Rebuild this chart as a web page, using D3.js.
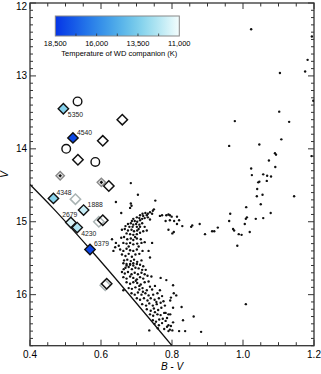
<!DOCTYPE html>
<html>
<head>
<meta charset="utf-8">
<script src="https://cdn.jsdelivr.net/npm/d3@7"></script>
<style>
body { margin: 0; background: #fff; }
text { font-family: Arial, "Liberation Sans", Helvetica, sans-serif; }
</style>
</head>
<body>
<svg id="cmd-svg" width="321" height="374"></svg>
<script>
// cluster members, [B-V, V]
const clusterStars = [
	[1.023,12.36],[1.194,12.46],[1.182,12.78],[1.175,12.94],[1.104,12.96],[1.198,13.34],[1.102,13.49],
	[1.130,13.63],[0.977,13.62],[1.108,13.87],[0.961,13.96],[1.046,13.94],[1.090,14.06],[1.093,14.08],
	[1.193,14.10],[1.073,14.16],[1.091,14.25],[1.023,14.27],[1.057,14.35],[1.068,14.37],[1.079,14.38],
	[1.025,14.36],[1.046,14.45],[1.043,14.46],[1.067,14.44],[1.040,14.55],
	[1.039,14.65],[1.055,14.63],[1.144,14.65],[1.050,14.76],[1.009,14.80],[1.078,14.88],[0.964,14.89],
	[1.011,14.94],[1.008,14.96],[1.036,14.96],[1.057,14.95],[0.961,14.99],[1.005,15.03],[1.019,15.14],
	[0.972,15.10],[0.975,15.12],[0.988,15.17],[0.996,15.18],[0.984,15.33],[1.008,16.13],
	[0.784,14.91],[0.790,14.90],[0.794,14.91],[0.799,14.93],[0.814,14.93],[0.820,14.98],[0.794,14.98],
	[0.782,14.99],[0.806,14.99],[0.814,15.03],[0.829,15.06],[0.790,15.11],[0.805,15.14],[0.801,15.16],
	[0.854,15.07],[0.857,15.05],[0.878,15.03],[0.893,15.17],[0.913,15.13],[0.919,15.13],[0.929,15.08],
	[0.684,14.47],[0.704,14.63],[0.642,14.73],[0.684,14.75],[0.686,14.78],[0.682,14.81],[0.749,14.83],
	[0.753,14.71],[0.746,14.85],[0.738,14.87],[0.725,14.88],[0.732,14.89],[0.744,14.89],[0.717,14.89],
	[0.657,14.88],[0.772,14.91],[0.766,14.92],[0.710,14.91],[0.719,14.92],[0.729,14.91],[0.701,14.94],
	[0.691,14.96],[0.708,14.95],[0.716,14.96],[0.723,14.95],[0.732,14.94],[0.738,14.97],[0.687,14.99],
	[0.695,14.99],[0.702,15.00],[0.710,14.98],[0.676,15.03],[0.684,15.02],[0.691,15.04],[0.699,15.03],
	[0.708,15.04],[0.716,15.02],[0.669,15.06],[0.680,15.07],[0.689,15.07],[0.701,15.07],[0.710,15.07],
	[0.723,15.07],[0.659,15.11],[0.667,15.10],[0.676,15.12],[0.686,15.11],[0.693,15.13],[0.702,15.12],
	[0.710,15.15],[0.719,15.13],[0.729,15.12],[0.672,15.16],[0.682,15.17],[0.691,15.18],[0.701,15.17],
	[0.631,15.24],[0.642,15.29],[0.650,15.33],[0.640,15.35],[0.635,15.40],[0.657,15.22],[0.665,15.21],
	[0.674,15.24],[0.684,15.23],[0.691,15.25],[0.701,15.23],[0.712,15.24],[0.663,15.29],[0.672,15.30],
	[0.682,15.29],[0.691,15.31],[0.702,15.30],[0.714,15.29],[0.723,15.28],[0.744,15.29],[0.654,15.38],
	[0.663,15.40],[0.672,15.37],[0.682,15.39],[0.691,15.40],[0.701,15.38],[0.659,15.45],[0.669,15.47],
	[0.678,15.44],[0.687,15.48],[0.697,15.45],[0.708,15.44],[0.717,15.40],[0.734,15.40],[0.665,15.53],
	[0.674,15.52],[0.684,15.54],[0.693,15.52],[0.702,15.55],[0.714,15.53],[0.738,15.49],[0.672,15.58],
	[0.682,15.59],[0.691,15.57],
	[0.663,15.57],[0.672,15.60],[0.682,15.58],[0.691,15.60],[0.701,15.58],[0.710,15.59],[0.719,15.61],
	[0.669,15.63],[0.678,15.62],[0.687,15.65],[0.697,15.63],[0.706,15.64],[0.716,15.66],[0.659,15.69],
	[0.667,15.71],[0.676,15.69],[0.686,15.72],[0.695,15.70],[0.704,15.72],[0.714,15.70],[0.723,15.72],
	[0.663,15.76],[0.672,15.78],[0.682,15.75],[0.691,15.77],[0.701,15.79],[0.710,15.76],[0.719,15.78],
	[0.731,15.74],[0.672,15.83],[0.682,15.85],[0.691,15.83],[0.702,15.84],[0.712,15.86],[0.723,15.83],
	[0.734,15.82],[0.738,15.89],[0.678,15.91],[0.687,15.92],[0.697,15.90],[0.708,15.93],[0.717,15.91],
	[0.729,15.94],[0.744,15.93],[0.663,15.94],[0.686,15.98],[0.695,16.00],[0.704,15.97],[0.714,16.00],
	[0.725,15.98],[0.734,16.01],[0.747,16.00],[0.759,15.98],[0.766,15.94],[0.701,16.05],[0.710,16.07],
	[0.721,16.05],[0.731,16.08],[0.740,16.05],[0.751,16.07],[0.763,16.05],[0.772,16.02],[0.716,16.13],
	[0.727,16.15],[0.736,16.12],[0.746,16.15],[0.757,16.13],[0.768,16.11],[0.776,16.09],[0.729,16.20],
	[0.740,16.22],[0.749,16.19],[0.761,16.21],[0.770,16.18],[0.738,16.27],[0.747,16.29],[0.759,16.27],
	[0.768,16.28],[0.778,16.25],[0.746,16.35],[0.755,16.37],[0.764,16.34],[0.774,16.33],[0.751,16.40],
	[0.763,16.42],[0.772,16.39],[0.736,16.49],[0.768,15.77],
	[0.784,15.80],[0.803,15.87],[0.805,15.98],[0.812,16.01],[0.797,16.04],[0.795,16.08],[0.803,16.18],
	[0.827,16.17],[0.782,16.25],[0.790,16.27],[0.795,16.27],[0.861,16.30],[0.831,16.35],[0.782,16.36],
	[0.803,16.38],[0.790,16.42],[0.797,16.43],[0.786,16.44],[0.794,16.48],[0.801,16.49],[0.790,16.50],
	[0.820,16.50],[0.837,16.50],[0.882,16.51],
	[0.706,15.10],[0.696,15.21],[0.678,15.34],[0.706,15.34],[0.664,15.65],[0.698,15.81],[0.708,15.88],
	[0.726,15.66],[0.742,15.75],[0.752,15.88],[0.718,15.96],[0.756,16.10],[0.780,16.15],[0.752,16.24],
	[0.786,16.32],[0.760,16.46],[0.778,16.47]
];

// zero-age main sequence
const zamsBV = [0.40, 0.466, 0.57, 0.80];
const zamsV = [14.49, 14.82, 15.38, 16.70];

// other stars
const openCircles = [[0.534,13.35],[0.502,14.00],[0.584,14.18]];
const openDiamonds = [[0.660,13.60],[0.605,13.89],[0.535,14.15],[0.622,14.51],[0.605,14.98],[0.616,15.85]];
const grayDiamonds = [[0.528,14.69],[0.594,15.00],[0.612,15.87]];
const dotDiamonds = [[0.485,14.37],[0.601,14.46]];

// stars with WD companions
const wdIds = ['5350','4540','4348','1888','2679','4230','6379'];
const wdBV = [0.494, 0.521, 0.466, 0.551, 0.515, 0.533, 0.569];
const wdV = [13.45, 13.85, 14.68, 14.84, 15.01, 15.08, 15.38];
const wdTemp = [13300, 17900, 13200, 11900, 11500, 12400, 18000];

const tempTicks = [18500, 16000, 13500, 11000];
const xTicks = [0.4, 0.6, 0.8, 1.0, 1.2];
const yTicks = [12, 13, 14, 15, 16];

const svg = d3.select('#cmd-svg');
const plot = {left: 30, right: 314, top: 3, bottom: 345.7};

const x = d3.scaleLinear().domain([0.4, 1.2]).range([plot.left, plot.right]);
const y = d3.scaleLinear().domain([12, 16.7]).range([plot.top, plot.bottom]);

const tempColor = d3.scaleSequential()
	.domain([18500, 11000])
	.interpolator(d3.interpolateRgbBasis(['#0534e6', '#2a8aea', '#74d2e8', '#f4fdfd']));

function diamondPath(r) {
	return 'M0,' + (-r) + 'L' + r + ',0L0,' + r + 'L' + (-r) + ',0Z';
}

function drawFrame() {
	svg.append('defs').append('clipPath').attr('id', 'plot-clip')
		.append('rect')
		.attr('x', plot.left).attr('y', plot.top)
		.attr('width', plot.right - plot.left).attr('height', plot.bottom - plot.top);

	const ticks = svg.append('g').attr('class', 'ticks').style('stroke', '#333').style('stroke-width', 1);

	d3.range(0.4, 1.2001, 0.05).forEach((v) => {
		const major = Math.abs(v * 5 - Math.round(v * 5)) < 1e-6;
		const len = major ? 6 : 3.5;
		ticks.append('line').attr('x1', x(v)).attr('x2', x(v)).attr('y1', plot.bottom).attr('y2', plot.bottom - len);
		ticks.append('line').attr('x1', x(v)).attr('x2', x(v)).attr('y1', plot.top).attr('y2', plot.top + len);
	});

	d3.range(12, 16.7001, 0.1).forEach((v) => {
		const major = Math.abs(v - Math.round(v)) < 1e-6;
		const len = major ? 6 : 3;
		ticks.append('line').attr('y1', y(v)).attr('y2', y(v)).attr('x1', plot.left).attr('x2', plot.left + len);
		ticks.append('line').attr('y1', y(v)).attr('y2', y(v)).attr('x1', plot.right).attr('x2', plot.right - len);
	});

	svg.append('rect')
		.attr('x', plot.left).attr('y', plot.top)
		.attr('width', plot.right - plot.left).attr('height', plot.bottom - plot.top)
		.style('fill', 'none').style('stroke', '#333').style('stroke-width', 1.3);

	svg.append('g').selectAll('text')
		.data(xTicks)
		.enter().append('text')
		.attr('x', (d) => { return x(d); })
		.attr('y', plot.bottom + 12)
		.attr('text-anchor', 'middle')
		.style('font-size', '10px')
		.text((d) => { return d3.format('.1f')(d); });

	// top label is pushed down so it stays on the page
	svg.append('g').selectAll('text')
		.data(yTicks)
		.enter().append('text')
		.attr('x', plot.left - 3)
		.attr('y', (d) => { return Math.max(y(d) + 3.5, 10); })
		.attr('text-anchor', 'end')
		.style('font-size', '10px')
		.text((d) => { return d; });

	svg.append('text')
		.attr('x', (plot.left + plot.right) / 2)
		.attr('y', 370)
		.attr('text-anchor', 'middle')
		.style('font-size', '10px')
		.style('font-style', 'italic')
		.text('B - V');

	svg.append('text')
		.attr('transform', 'translate(8,' + ((plot.top + plot.bottom) / 2) + ') rotate(-90)')
		.attr('text-anchor', 'middle')
		.style('font-size', '10px')
		.style('font-style', 'italic')
		.text('V');
}

function drawCluster() {
	const g = svg.append('g').attr('clip-path', 'url(#plot-clip)');

	g.append('path')
		.datum(zamsBV.map((d, i) => { return [d, zamsV[i]]; }))
		.attr('d', d3.line().x((d) => { return x(d[0]); }).y((d) => { return y(d[1]); }).curve(d3.curveMonotoneX))
		.style('fill', 'none')
		.style('stroke', '#111')
		.style('stroke-width', 1.3);

	g.selectAll('.cluster-star')
		.data(clusterStars)
		.enter().append('circle')
		.attr('class', 'cluster-star')
		.attr('cx', (d) => { return x(d[0]); })
		.attr('cy', (d) => { return y(d[1]); })
		.attr('r', 1.2)
		.style('fill', '#111');
}

function drawMarkers() {
	const g = svg.append('g');

	g.selectAll('.gray-diamond')
		.data(grayDiamonds)
		.enter().append('path')
		.attr('class', 'gray-diamond')
		.attr('transform', (d) => { return 'translate(' + x(d[0]) + ',' + y(d[1]) + ')'; })
		.attr('d', diamondPath(5.2))
		.style('fill', 'none')
		.style('stroke', '#aab4b4')
		.style('stroke-width', 1.5);

	g.selectAll('.open-diamond')
		.data(openDiamonds)
		.enter().append('path')
		.attr('class', 'open-diamond')
		.attr('transform', (d) => { return 'translate(' + x(d[0]) + ',' + y(d[1]) + ')'; })
		.attr('d', diamondPath(5.2))
		.style('fill', 'none')
		.style('stroke', '#111')
		.style('stroke-width', 1.5);

	g.selectAll('.open-circle')
		.data(openCircles)
		.enter().append('circle')
		.attr('class', 'open-circle')
		.attr('cx', (d) => { return x(d[0]); })
		.attr('cy', (d) => { return y(d[1]); })
		.attr('r', 4.3)
		.style('fill', 'none')
		.style('stroke', '#111')
		.style('stroke-width', 1.4);

	const dotted = g.selectAll('.dot-diamond')
		.data(dotDiamonds)
		.enter().append('g')
		.attr('class', 'dot-diamond')
		.attr('transform', (d) => { return 'translate(' + x(d[0]) + ',' + y(d[1]) + ')'; });

	dotted.append('path')
		.attr('d', diamondPath(4.2))
		.style('fill', '#e4e4e4')
		.style('stroke', '#888')
		.style('stroke-width', 1.4);

	dotted.append('path')
		.attr('d', diamondPath(1.8))
		.style('fill', '#111');

	const wd = wdIds.map((id, i) => {
		return {id: id, bv: wdBV[i], v: wdV[i], temp: wdTemp[i]};
	});

	// label offsets from the marker centre
	const labelOffset = {
		'5350': [4.5, 8], '4540': [4, -3], '4348': [3, -3], '1888': [4, -3],
		'2679': [-8.7, -5.5], '4230': [4, 8.5], '6379': [4, -3.5]
	};

	const wdNodes = g.selectAll('.wd-node')
		.data(wd)
		.enter().append('g')
		.attr('class', 'wd-node')
		.attr('transform', (d) => { return 'translate(' + x(d.bv) + ',' + y(d.v) + ')'; });

	wdNodes.append('path')
		.attr('d', diamondPath(5.2))
		.style('fill', (d) => { return tempColor(d.temp); })
		.style('stroke', '#111')
		.style('stroke-width', 1.4);

	wdNodes.append('text')
		.attr('x', (d) => { return labelOffset[d.id][0]; })
		.attr('y', (d) => { return labelOffset[d.id][1]; })
		.style('font-size', '6.8px')
		.style('fill', '#222')
		.text((d) => { return d.id; });
}

function drawColorbar() {
	const bar = {x0: 55.3, x1: 179.3, y0: 16, y1: 36};
	const tx = d3.scaleLinear().domain([18500, 11000]).range([bar.x0, bar.x1]);

	const grad = svg.select('defs').append('linearGradient')
		.attr('id', 'temp-grad')
		.attr('x1', '0%').attr('x2', '100%').attr('y1', '0%').attr('y2', '0%');

	d3.range(0, 1.0001, 0.05).forEach((t) => {
		grad.append('stop')
			.attr('offset', (t * 100) + '%')
			.attr('stop-color', tempColor(18500 - t * 7500));
	});

	svg.append('rect')
		.attr('x', bar.x0).attr('y', bar.y0)
		.attr('width', bar.x1 - bar.x0).attr('height', bar.y1 - bar.y0)
		.style('fill', 'url(#temp-grad)')
		.style('stroke', '#888')
		.style('stroke-width', 1);

	const minor = d3.range(18500 - 1250, 11000, -1250);
	svg.append('g').selectAll('line')
		.data(minor)
		.enter().append('line')
		.attr('x1', (d) => { return tx(d); })
		.attr('x2', (d) => { return tx(d); })
		.attr('y1', bar.y1)
		.attr('y2', bar.y1 - 2.5)
		.style('stroke', '#333')
		.style('stroke-width', 0.8);

	svg.append('g').selectAll('text')
		.data(tempTicks)
		.enter().append('text')
		.attr('x', (d) => { return tx(d); })
		.attr('y', 46)
		.attr('text-anchor', 'middle')
		.style('font-size', '7.5px')
		.text((d) => { return d3.format(',')(d); });

	svg.append('text')
		.attr('x', (bar.x0 + bar.x1) / 2 + 2)
		.attr('y', 56)
		.attr('text-anchor', 'middle')
		.style('font-size', '7.5px')
		.text('Temperature of WD companion (K)');
}

drawFrame();
drawCluster();
drawMarkers();
drawColorbar();
</script>
</body>
</html>
